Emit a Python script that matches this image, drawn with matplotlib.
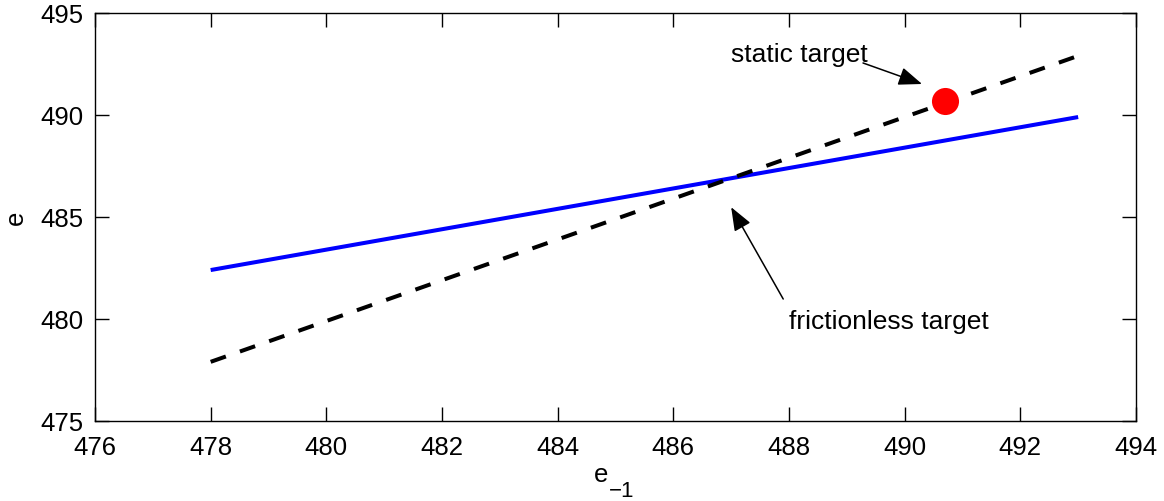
import matplotlib
matplotlib.use("Agg")
import matplotlib.pyplot as plt

plt.rcParams["font.family"] = ["Liberation Sans", "DejaVu Sans"]

# data
e_prev = [478, 493]
frictionless = [482.4, 489.9]
static_line = [477.9, 492.9]
static_point = (490.7, 490.7)

x_ticks = [476, 478, 480, 482, 484, 486, 488, 490, 492, 494]
y_ticks = [475, 480, 485, 490, 495]

W, H = 1164, 502
fig = plt.figure(figsize=(W / 100, H / 100), dpi=100)
ax = fig.add_axes([95 / W, 1 - 422 / H, 1041 / W, 408 / H])

ax.plot(e_prev, frictionless, color="#0000ff", linewidth=2.9, solid_capstyle="butt")
ax.plot(e_prev, static_line, color="black", linewidth=2.9, linestyle=(0, (4.0, 3.7)),
        dash_capstyle="butt")
ax.plot(*static_point, "o", color="#ff0000", markersize=19.5, markeredgewidth=0)

arrow = dict(arrowstyle="-|>,head_length=0.9,head_width=0.35", color="black",
             linewidth=1.1, shrinkA=0, shrinkB=0, mutation_scale=16)

ax.text(487.0, 493.0, "static target", fontsize=19, ha="left", va="center")
ax.annotate("", xy=(490.3, 491.52), xytext=(489.28, 492.55), arrowprops=arrow)

ax.text(488.0, 479.92, "frictionless target", fontsize=19, ha="left", va="center")
ax.annotate("", xy=(487.0, 485.48), xytext=(487.9, 480.98), arrowprops=arrow)

ax.set_xlim(476, 494)
ax.set_ylim(475, 495)
ax.set_xticks(x_ticks)
ax.set_yticks(y_ticks)
ax.tick_params(direction="in", length=10, width=1, labelsize=18.5, top=True, right=True)
ax.tick_params(axis="x", pad=10)
ax.tick_params(axis="y", pad=8.5)
for s in ax.spines.values():
    s.set_linewidth(1.0)

# x label "e" with a large MATLAB-style subscript
fig.text(601 / W, 1 - 475 / H, "e", fontsize=18.5, ha="center", va="center")
fig.text(609 / W, 1 - 492 / H, "\u22121", fontsize=16, ha="left", va="center")
ax.set_ylabel("e", fontsize=18.5, labelpad=9)

fig.savefig("out.png", dpi=100)
